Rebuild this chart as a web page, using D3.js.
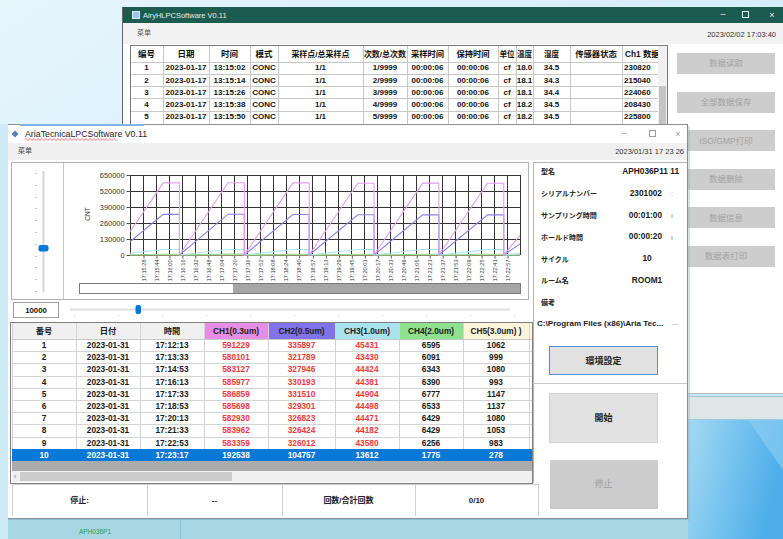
<!DOCTYPE html>
<html>
<head>
<meta charset="utf-8">
<title>AriaTecnicaLPCSoftware</title>
<script src="https://cdn.jsdelivr.net/npm/d3@7/dist/d3.min.js"></script>
<style>
  html, body { margin: 0; padding: 0; overflow: hidden; background: #dff1fa; }
  svg { display: block; }
  text { font-family: "Liberation Sans", Arial, "Noto Sans CJK JP", sans-serif; }
  .sc { font-family: "Liberation Sans", "Noto Sans CJK SC", sans-serif; }
  .jp { font-family: "Liberation Sans", "Noto Sans CJK JP", sans-serif; }
</style>
</head>
<body>
<svg id="screen" width="783" height="539" viewBox="0 0 783 539"></svg>
<script>
// Two overlapping particle-counter windows.

// ---- back window (AiryHLPCSoftware) ----
const backHeaders = ["编号", "日期", "时间", "模式", "采样点/总采样点", "次数/总次数", "采样时间", "保持时间", "单位", "温度", "湿度", "传感器状态", "Ch1 数据"];
const backNo = ["1", "2", "3", "4", "5"];
const backDate = ["2023-01-17", "2023-01-17", "2023-01-17", "2023-01-17", "2023-01-17"];
const backTime = ["13:15:02", "13:15:14", "13:15:26", "13:15:38", "13:15:50"];
const backMode = ["CONC", "CONC", "CONC", "CONC", "CONC"];
const backPoints = ["1/1", "1/1", "1/1", "1/1", "1/1"];
const backCount = ["1/9999", "2/9999", "3/9999", "4/9999", "5/9999"];
const backSampleTime = ["00:00:06", "00:00:06", "00:00:06", "00:00:06", "00:00:06"];
const backHoldTime = ["00:00:06", "00:00:06", "00:00:06", "00:00:06", "00:00:06"];
const backUnit = ["cf", "cf", "cf", "cf", "cf"];
const backTemp = ["18.0", "18.1", "18.1", "18.2", "18.2"];
const backHumid = ["34.5", "34.3", "34.4", "34.5", "34.5"];
const backSensor = ["", "", "", "", ""];
const backCh1 = ["230820", "215040", "224060", "208430", "225800"];
const backButtons = ["数据读取", "全部数据保存", "ISO/GMP打印", "数据删除", "数据信息", "数据表打印"];

// ---- front window (AriaTecnicaLPCSoftware) table ----
const frontHeaders = ["番号", "日付", "時間", "CH1(0.3um)", "CH2(0.5um)", "CH3(1.0um)", "CH4(2.0um)", "CH5(3.0um) )"];
const sampleNo = [1, 2, 3, 4, 5, 6, 7, 8, 9, 10];
const sampleDate = ["2023-01-31", "2023-01-31", "2023-01-31", "2023-01-31", "2023-01-31", "2023-01-31", "2023-01-31", "2023-01-31", "2023-01-31", "2023-01-31"];
const sampleTime = ["17:12:13", "17:13:33", "17:14:53", "17:16:13", "17:17:33", "17:18:53", "17:20:13", "17:21:33", "17:22:53", "17:23:17"];
const ch1 = [591229, 580101, 583127, 585977, 586859, 585698, 582930, 583962, 583359, 192538];
const ch2 = [335897, 321789, 327946, 330193, 331510, 329301, 326823, 326424, 326012, 104757];
const ch3 = [45431, 43430, 44424, 44381, 44904, 44498, 44471, 44182, 43580, 13612];
const ch4 = [6595, 6091, 6343, 6390, 6777, 6533, 6429, 6429, 6256, 1775];
const ch5 = [1062, 999, 1080, 993, 1147, 1137, 1080, 1053, 983, 278];

// ---- trend chart ----
const xTickTimes = ["17:15:28", "17:15:44", "17:16:00", "17:16:16", "17:16:32", "17:16:48", "17:17:04", "17:17:20", "17:17:36", "17:17:52",
  "17:18:08", "17:18:24", "17:18:40", "17:18:57", "17:19:13", "17:19:29", "17:19:45", "17:20:01", "17:20:17", "17:20:33",
  "17:20:49", "17:21:05", "17:21:21", "17:21:37", "17:21:53", "17:22:09", "17:22:25", "17:22:41", "17:22:57"];
const yTicks = [0, 130000, 260000, 390000, 520000, 650000];
const chartStart = "17:15:12";
const chartEnd = "17:23:13";
const chartTimes = ["17:15:12", "17:15:53", "17:16:13", "17:16:13", "17:17:13", "17:17:33", "17:17:33", "17:18:33", "17:18:53", "17:18:53",
  "17:19:53", "17:20:13", "17:20:13", "17:21:13", "17:21:33", "17:21:33", "17:22:33", "17:22:53", "17:22:53", "17:23:13"];
const chartCh1 = [190000, 585977, 585977, 0, 586859, 586859, 0, 585698, 585698, 0, 582930, 582930, 0, 583962, 583962, 0, 583359, 583359, 0, 160000];
const chartCh2 = [108000, 330193, 330193, 0, 331510, 331510, 0, 329301, 329301, 0, 326823, 326823, 0, 326424, 326424, 0, 326012, 326012, 0, 90000];
const chartCh3 = [14500, 44381, 44381, 0, 44904, 44904, 0, 44498, 44498, 0, 44471, 44471, 0, 44182, 44182, 0, 43580, 43580, 0, 11500];
const chartCh4 = [2100, 6390, 6390, 0, 6777, 6777, 0, 6533, 6533, 0, 6429, 6429, 0, 6429, 6429, 0, 6256, 6256, 0, 1500];
const chartCh5 = [320, 993, 993, 0, 1147, 1147, 0, 1137, 1137, 0, 1080, 1080, 0, 1053, 1053, 0, 983, 983, 0, 240];

// ---- side panel / status ----
const infoLabels = ["型名", "シリアルナンバー", "サンプリング時間", "ホールド時間", "サイクル", "ルーム名", "備考"];
const infoValues = ["APH036P11 11", "2301002", "00:01:00", "00:00:20", "10", "ROOM1", ""];
const infoRemark = "C:\\Program Files (x86)\\Aria Tec...";
const statusCells = ["停止:", "--", "回数/合計回数", "0/10"];
const frontButtons = ["環境設定", "開始", "停止"];

// ---- styling ----
const SERIES_COLORS = ["#e69cf2", "#8a80f2", "#a9e5f2", "#8fdc8f", "#f2e4a2"];
const HEADER_FILLS = ["#f0f0f0", "#f0f0f0", "#f0f0f0", "#e68ee6", "#7f72ea", "#a9e3ef", "#8fe08f", "#fdf5da"];
const RED = "#f03a3a";
const SELECT_BLUE = "#0a78d7";

const parseTime = d3.timeParse("%H:%M:%S");
const fmtTime = d3.timeFormat("%H:%M:%S");

const svg = d3.select("#screen");
const defs = svg.append("defs");

function put(g, x, y, str, o = {}) {
  return g.append("text")
    .attr("x", x).attr("y", y).attr("dy", "0.35em")
    .attr("text-anchor", o.anchor || "middle")
    .attr("font-size", o.size || 8)
    .attr("font-weight", o.weight || "normal")
    .attr("class", o.cls || null)
    .style("fill", o.fill || "#111")
    .text(str);
}

function box(g, x, y, w, h, fill, stroke) {
  return g.append("rect")
    .attr("x", x).attr("y", y).attr("width", w).attr("height", h)
    .attr("fill", fill || "none")
    .attr("stroke", stroke || "none")
    .attr("shape-rendering", "crispEdges");
}

function hline(g, x1, x2, y, color) {
  g.append("line").attr("x1", x1).attr("x2", x2).attr("y1", y).attr("y2", y)
    .attr("stroke", color).attr("shape-rendering", "crispEdges");
}

function vline(g, x, y1, y2, color) {
  g.append("line").attr("x1", x).attr("x2", x).attr("y1", y1).attr("y2", y2)
    .attr("stroke", color).attr("shape-rendering", "crispEdges");
}

// ---- desktop ----
const bgGrad = defs.append("linearGradient").attr("id", "bgGrad").attr("x1", 0).attr("y1", 0).attr("x2", 1).attr("y2", 1);
bgGrad.append("stop").attr("offset", "0").attr("stop-color", "#e6f5fc");
bgGrad.append("stop").attr("offset", "1").attr("stop-color", "#c2e6f7");
box(svg, 0, 0, 783, 539, "url(#bgGrad)");

const deskGrad = defs.append("linearGradient").attr("id", "deskGrad").attr("x1", 0).attr("y1", 0).attr("x2", 1).attr("y2", 0.3);
deskGrad.append("stop").attr("offset", "0").attr("stop-color", "#a6d9f2");
deskGrad.append("stop").attr("offset", "0.6").attr("stop-color", "#6fc0ee");
deskGrad.append("stop").attr("offset", "1").attr("stop-color", "#4eaee9");
box(svg, 688, 420, 95, 119, "url(#deskGrad)");
svg.append("path").attr("d", "M748,420 L783,420 L783,470 Z").attr("fill", "#8fd0f3").attr("opacity", 0.6);

// ---- back window ----
const back = svg.append("g");
box(back, 123, 7, 660, 387, "#ffffff");
box(back, 123, 7, 660, 16, "#1c5b50");
box(back, 132, 11, 7, 7, "#9cc4e8", "#d8e8f5");
put(back, 143, 15, "AiryHLPCSoftware V0.11", { anchor: "start", size: 7.5, fill: "#e6efed" });
put(back, 723, 14, "–", { size: 9, fill: "#e6efed" });
box(back, 742.5, 11.5, 6, 6, "none", "#e6efed");
put(back, 772, 15, "×", { size: 9, fill: "#e6efed" });
box(back, 123, 23, 660, 21, "#f2f2f2");
put(back, 137, 33, "菜单", { anchor: "start", size: 7, fill: "#555", cls: "sc" });
put(back, 776, 34, "2023/02/02 17:03:40", { anchor: "end", size: 7.5, fill: "#333" });
vline(back, 122.5, 7, 124, "#666");

const backCols = [130, 163, 209, 250, 278, 363, 407, 448, 498, 516, 533, 570, 622, 658];
const backRows = backNo.map((n, i) => [n, backDate[i], backTime[i], backMode[i], backPoints[i], backCount[i],
  backSampleTime[i], backHoldTime[i], backUnit[i], backTemp[i], backHumid[i], backSensor[i], backCh1[i]]);
const backClip = defs.append("clipPath").attr("id", "backClip");
backClip.append("rect").attr("x", 130).attr("y", 45).attr("width", 528).attr("height", 80);

const bt = back.append("g").attr("clip-path", "url(#backClip)");
box(bt, 130, 45, 537, 85, "#ffffff");
const BACK_HEAD_Y = 46, BACK_ROW_H = 12.25, BACK_ROW_Y = 61.5;
const backHeadSize = [8.5, 8.5, 8.5, 8.5, 8, 8, 8.3, 8.3, 7.6, 7.6, 7.6, 8.3, 8.3];
backHeaders.forEach((h, j) => {
  const last = j === backHeaders.length - 1;
  put(bt, last ? backCols[j] + 3 : (backCols[j] + backCols[j + 1]) / 2, 54, h,
    { anchor: last ? "start" : "middle", size: backHeadSize[j], weight: "bold", cls: "sc" });
});
backRows.forEach((row, i) => {
  const cy = BACK_ROW_Y + BACK_ROW_H * i + BACK_ROW_H / 2;
  row.forEach((v, j) => {
    const last = j === row.length - 1;
    put(bt, last ? backCols[j] + 2 : (backCols[j] + backCols[j + 1]) / 2, cy, v,
      { anchor: last ? "start" : "middle", size: 8, weight: "bold" });
  });
  hline(bt, 130, 658, Math.round(BACK_ROW_Y + BACK_ROW_H * i) + 0.5, "#c8c8c8");
});
backCols.forEach((x0) => vline(bt, x0 + 0.5, BACK_HEAD_Y, 125, "#c8c8c8"));
box(back, 658, 46, 9, 79, "#f0f0f0");
box(back, 659, 86, 7, 39, "#c4c4c4");
box(back, 130.5, 45.5, 537, 90, "none", "#7a7a7a");

const BTN_Y0 = 53, BTN_STEP = 38.6;
backButtons.forEach((b, i) => {
  box(back, 677, BTN_Y0 + BTN_STEP * i, 98, 21, "#cdcdcd");
  put(back, 726, BTN_Y0 + BTN_STEP * i + 10.5, b, { size: 8.5, fill: "#a2a2a2", cls: "sc" });
});
hline(back, 688, 783, 393.5, "#b8b8b8");
box(svg, 688, 396, 95, 24, "#dfe6e8");
hline(svg, 688, 783, 396.5, "#9ccbd8");
hline(svg, 688, 783, 419.5, "#9ccbd8");

// ---- front window ----
const front = svg.append("g");
box(svg, 0, 124, 8, 415, "#cfeaf7");
box(front, 9, 126, 681, 395, "#9aa9b0").attr("opacity", 0.35);
box(front, 7.5, 124.5, 680, 394, "#ffffff", "#8d8d8d");
box(front, 20, 124, 124, 1.5, "#7fb4e8");
front.append("path").attr("d", "M15,130.5 L18.5,134 L15,137.5 L11.5,134 Z").attr("fill", "#5b7fb8");
put(front, 25, 133.5, "AriaTecnicaLPCSoftware V0.11", { anchor: "start", size: 8.8, fill: "#222" });
let squiggle = "M25,139.5";
for (let sx = 25; sx < 116; sx += 2) squiggle += ` L${sx + 1},${sx % 4 === 1 ? 138.5 : 140.5} L${sx + 2},139.5`;
front.append("path").attr("d", squiggle).attr("fill", "none").attr("stroke", "#e23b3b").attr("stroke-width", 0.8);
put(front, 624, 133, "–", { size: 9, fill: "#9a9a9a" });
box(front, 649.5, 130.5, 6, 6, "none", "#9a9a9a");
put(front, 678, 134, "×", { size: 9, fill: "#9a9a9a" });
box(front, 8, 143, 679, 17, "#f0f0f0");
put(front, 18, 151, "菜单", { anchor: "start", size: 7, fill: "#444", cls: "jp" });
put(front, 684, 151, "2023/01/31 17 23 26", { anchor: "end", size: 7.5, fill: "#333" });

// chart group box
const chart = front.append("g");
box(chart, 11.5, 162.5, 517, 137, "#ffffff", "#b0b0b0");
vline(chart, 63.5, 163, 299, "#c8c8c8");
chart.append("line").attr("x1", 43.5).attr("x2", 43.5).attr("y1", 171).attr("y2", 292)
  .attr("stroke", "#d6d6d6").attr("stroke-width", 2);
d3.range(0, 11).forEach((i) => hline(chart, 35, 37, 173.5 + i * 11.8, "#c8c8c8"));
chart.append("rect").attr("x", 38.5).attr("y", 245).attr("width", 10).attr("height", 6.5).attr("rx", 2)
  .attr("fill", SELECT_BLUE);

const x = d3.scaleTime().domain([parseTime(chartStart), parseTime(chartEnd)]).range([130, 520]);
const y = d3.scaleLinear().domain([0, 650000]).range([255, 175]);
const xTickDates = xTickTimes.map(parseTime);

const grid = chart.append("g").attr("stroke", "#333333").attr("shape-rendering", "crispEdges");
grid.selectAll("line.v")
  .data([x.range()[0], ...xTickDates.map((d) => x(d)), x.range()[1]])
  .join("line").attr("class", "v")
  .attr("x1", (d) => Math.round(d) + 0.5).attr("x2", (d) => Math.round(d) + 0.5)
  .attr("y1", y(650000)).attr("y2", y(0));
grid.selectAll("line.h")
  .data(yTicks)
  .join("line").attr("class", "h")
  .attr("x1", x.range()[0]).attr("x2", x.range()[1])
  .attr("y1", (d) => Math.round(y(d)) + 0.5).attr("y2", (d) => Math.round(y(d)) + 0.5);

const yAxis = chart.append("g").attr("transform", "translate(130.5,0)")
  .call(d3.axisLeft(y).tickValues(yTicks).tickSize(4).tickPadding(2).tickFormat(d3.format("d")));
yAxis.select(".domain").remove();
yAxis.selectAll("line").attr("stroke", "#555");
yAxis.selectAll("text").attr("font-size", 7.4).style("fill", "#333");

const xAxis = chart.append("g").attr("transform", "translate(0.5,255.5)")
  .call(d3.axisBottom(x).tickValues(xTickDates).tickSize(3).tickFormat(fmtTime));
xAxis.select(".domain").remove();
xAxis.selectAll("line").attr("stroke", "#555");
xAxis.selectAll("text")
  .attr("transform", "rotate(-90)")
  .attr("text-anchor", "end")
  .attr("x", -4).attr("y", 0).attr("dy", "0.32em")
  .attr("font-size", 5.6).style("fill", "#333");

put(chart, 88, 214, "CNT", { size: 6.5, fill: "#333" }).attr("transform", "rotate(-90,88,214)");

const plotClip = defs.append("clipPath").attr("id", "plotClip");
plotClip.append("rect").attr("x", 130).attr("y", 170).attr("width", 390).attr("height", 86);
const series = [chartCh1, chartCh2, chartCh3, chartCh4, chartCh5].map((vals) =>
  vals.map((v, i) => ({ t: parseTime(chartTimes[i]), v })));
const lineGen = d3.line().x((d) => x(d.t)).y((d) => y(d.v));
chart.append("g").attr("clip-path", "url(#plotClip)")
  .selectAll("path")
  .data(series.slice().reverse())
  .join("path")
  .attr("d", lineGen)
  .attr("fill", "none")
  .attr("stroke", (d, i) => SERIES_COLORS[series.length - 1 - i])
  .attr("stroke-width", 1.1);

box(chart, 79.5, 283.5, 441, 10, "#ffffff", "#7a7a7a");
box(chart, 233, 284, 287, 9, "#a6a6a6");

// count box + horizontal slider
box(front, 13.5, 302.5, 45, 15, "#ffffff", "#a0a0a0");
put(front, 36, 310, "10000", { size: 7.8, weight: "bold" });
front.append("line").attr("x1", 70).attr("x2", 510).attr("y1", 309.5).attr("y2", 309.5)
  .attr("stroke", "#dedede").attr("stroke-width", 2);
d3.range(0, 11).forEach((i) => box(front, 73.5 + i * 44, 315, 1, 1, "#cccccc"));
front.append("rect").attr("x", 135.5).attr("y", 305).attr("width", 5.5).attr("height", 9).attr("rx", 2)
  .attr("fill", SELECT_BLUE);

// data table
const frontCols = [12, 76, 140, 204, 268, 335, 399, 463, 529];
const frontRows = sampleNo.map((n, i) => [String(n), sampleDate[i], sampleTime[i],
  String(ch1[i]), String(ch2[i]), String(ch3[i]), String(ch4[i]), String(ch5[i])]);
const FT_HEAD_Y = 323, FT_ROW_Y = 339, FT_ROW_H = 12.2;
const ft = front.append("g");
box(ft, 10.5, 322.5, 522, 161, "#ffffff");
frontHeaders.forEach((h, j) => {
  box(ft, frontCols[j], FT_HEAD_Y, frontCols[j + 1] - frontCols[j], FT_ROW_Y - FT_HEAD_Y, HEADER_FILLS[j]);
  put(ft, (frontCols[j] + frontCols[j + 1]) / 2, 331.5, h, { size: 8.3, weight: "bold", fill: "#222", cls: "jp" });
});
box(ft, 529, FT_HEAD_Y, 3, 16, "#fdf5da");
frontRows.forEach((row, i) => {
  const top = FT_ROW_Y + FT_ROW_H * i;
  const selected = i === frontRows.length - 1;
  if (selected) box(ft, 12, top, 520, FT_ROW_H, SELECT_BLUE);
  row.forEach((v, j) => {
    const fill = selected ? "#ffffff" : (j >= 3 && j <= 5 ? RED : "#1a1a1a");
    put(ft, (frontCols[j] + frontCols[j + 1]) / 2, top + FT_ROW_H / 2, v, { size: 8.3, weight: "bold", fill });
  });
  if (!selected) hline(ft, 12, 532, Math.round(top + FT_ROW_H) + 0.5, "#d4d4d4");
});
frontCols.forEach((c) => vline(ft, c + 0.5, FT_HEAD_Y, FT_ROW_Y + FT_ROW_H * 9, "#d4d4d4"));
hline(ft, 12, 532, FT_ROW_Y + 0.5, "#c8c8c8");
box(ft, 12, 461, 520, 10, "#ababab");
box(ft, 12, 471, 520, 11, "#f0f0f0");
box(ft, 20, 472, 212, 9, "#cdcdcd");
put(ft, 15, 476.5, "‹", { size: 8, fill: "#777" });
box(ft, 10.5, 322.5, 522, 161, "none", "#808080");

// status row
const statusEdges = [12, 147, 282, 415, 538];
const st = front.append("g");
box(st, 12, 484, 526, 32, "#ffffff");
hline(st, 12, 538, 484.5, "#cfcfcf");
statusEdges.forEach((e) => vline(st, e + 0.5, 484, 516, "#d0d0d0"));
statusCells.forEach((s, j) => {
  put(st, (statusEdges[j] + statusEdges[j + 1]) / 2, 500, s, { size: 8, weight: "bold", fill: "#222", cls: "jp" });
});

// side panel
const side = front.append("g");
vline(side, 533.5, 162, 483, "#b4b4b4");
hline(side, 533, 687, 162.5, "#b4b4b4");
const INFO_Y0 = 172, INFO_STEP = 21.8;
infoLabels.forEach((l, i) => {
  put(side, 541, INFO_Y0 + INFO_STEP * i, l, { anchor: "start", size: 7, weight: "bold", fill: "#222", cls: "jp" });
});
infoValues.forEach((v, i) => {
  if (!v) return;
  let xPos = 662, anchor = "end";
  if (i === 0) xPos = 679;
  if (i === 4 || i === 5) { xPos = 647; anchor = "middle"; }
  put(side, xPos, INFO_Y0 + INFO_STEP * i - 1, v, { anchor, size: 8.3, weight: "bold", fill: "#1a1a1a" });
});
put(side, 672, INFO_Y0 + INFO_STEP * 1, ":", { size: 7, fill: "#999" });
put(side, 672, INFO_Y0 + INFO_STEP * 2, "ı", { size: 7, fill: "#777" });
put(side, 672, INFO_Y0 + INFO_STEP * 3, "ı", { size: 7, fill: "#777" });
put(side, 537, 323, infoRemark, { anchor: "start", size: 8.1, weight: "bold", fill: "#1a1a1a" });
put(side, 675, 323, "...", { size: 7, fill: "#666" });

box(side, 549.5, 346.5, 108, 28, "#e1e1e1").attr("stroke", "#4f93d6").attr("stroke-width", 1.4);
put(side, 603.5, 360.5, frontButtons[0], { size: 9, weight: "bold", fill: "#222", cls: "jp" });
hline(side, 533, 687, 383.5, "#c8c8c8");
box(side, 549.5, 393.5, 108, 49, "#e1e1e1", "#d2d2d2");
put(side, 603.5, 418, frontButtons[1], { size: 9, weight: "bold", fill: "#222", cls: "jp" });
box(side, 549.5, 459.5, 108, 49, "#cccccc");
put(side, 603.5, 484, frontButtons[2], { size: 9, fill: "#a0a0a0", cls: "jp" });

// strip under the front window
box(svg, 8, 519, 680, 20, "#a8d7e4");
hline(svg, 8, 688, 519.5, "#8dc3d3");
vline(svg, 180.5, 520, 539, "#8dc3d3");
put(svg, 95, 532, "APH036P1", { size: 6.5, fill: "#2d9a44" });
</script>
</body>
</html>
